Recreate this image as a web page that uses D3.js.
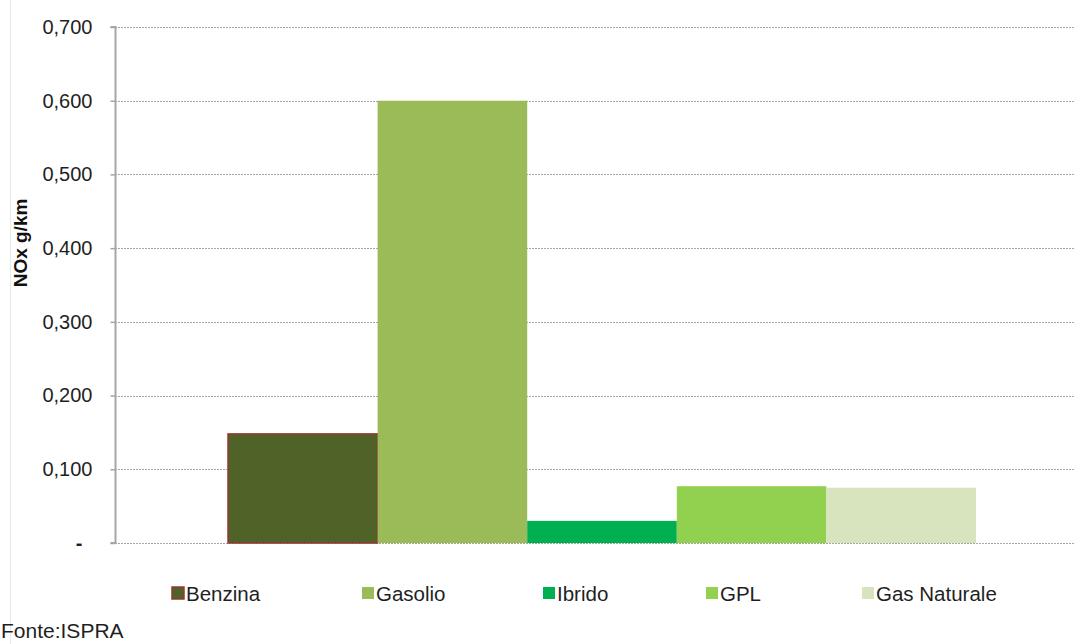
<!DOCTYPE html>
<html><head><meta charset="utf-8">
<script src="https://cdn.jsdelivr.net/npm/d3@7"></script>
<style>body{margin:0;background:#fff;} svg{display:block;font-family:"Liberation Sans",Arial,sans-serif;}</style>
</head><body>
<svg id="c" width="1075" height="644"></svg>
<script>
const series = ["Benzina","Gasolio","Ibrido","GPL","Gas Naturale"];
const values = [0.148, 0.600, 0.030, 0.077, 0.075];
const colors = ["#4F6228","#9BBB59","#00B050","#92D050","#D7E4BD"];
const strokes = ["#953735", null, null, null, null];
const yTicks = [0,0.1,0.2,0.3,0.4,0.5,0.6,0.7];
const yTickLabels = ["-","0,100","0,200","0,300","0,400","0,500","0,600","0,700"];

const svg = d3.select("#c");
const mLeft = 115, mTop = 27, mBottom = 543;
const y = d3.scaleLinear().domain([0,0.7]).range([mBottom, mTop]);
const x = d3.scaleBand().domain(series).range([228, 976]).padding(0);

// left faint border line
svg.append("line").attr("x1",10.5).attr("x2",10.5).attr("y1",0).attr("y2",644).attr("stroke","#e3eeea").attr("stroke-width",1);

// gridlines
svg.append("g").selectAll("line").data(yTicks).join("line")
  .attr("x1", mLeft).attr("x2", 1075)
  .attr("y1", d=>Math.round(y(d))+0.5).attr("y2", d=>Math.round(y(d))+0.5)
  .attr("stroke","#a6a6a6").attr("stroke-width",1).attr("stroke-dasharray","2,1");

// bars
svg.append("g").selectAll("rect").data(series).join("rect")
  .attr("x", d=>x(d)).attr("width", x.bandwidth())
  .attr("y", (d,i)=>y(values[i])).attr("height",(d,i)=>y(0)-y(values[i]))
  .attr("fill",(d,i)=>colors[i])
  .attr("stroke",(d,i)=>strokes[i]||"none").attr("stroke-width",1.5);

// y axis
const axis = d3.axisLeft(y).tickValues(yTicks).tickSize(5).tickPadding(18)
  .tickFormat((d,i)=>yTickLabels[i]);
const ag = svg.append("g").attr("transform",`translate(${mLeft+0.5},0)`).call(axis);
ag.select(".domain").attr("stroke","#a6a6a6").attr("stroke-width",2).attr("d",`M-5,${y(0.7)}H0V${y(0)}H-5`);
ag.selectAll(".tick line").attr("stroke","#a6a6a6").attr("stroke-width",1.5);
ag.selectAll(".tick text").attr("font-size",20).attr("fill","#1f1f1f").attr("font-family","Liberation Sans, Arial, sans-serif");
ag.selectAll(".tick").filter(d=>d===0).select("text").attr("x",-33).attr("font-weight","bold");

// y label
svg.append("text").attr("transform","translate(27,243) rotate(-90)")
  .attr("text-anchor","middle").attr("font-size",19).attr("font-weight","bold").attr("fill","#111")
  .text("NOx g/km");

// legend
const legX = [172, 362, 543, 706, 862];
const lg = svg.append("g").selectAll("g").data(series).join("g")
  .attr("transform",(d,i)=>`translate(${legX[i]},587)`);
lg.append("rect").attr("width",12).attr("height",12)
  .attr("fill",(d,i)=>colors[i]).attr("stroke",(d,i)=>strokes[i]||"none").attr("stroke-width",1.5);
lg.append("text").attr("x",14).attr("y",14).attr("font-size",20.5).attr("fill","#1f1f1f").text(d=>d);

svg.append("text").attr("x",1).attr("y",638).attr("font-size",21).attr("fill","#1f1f1f")
  .attr("font-family","Liberation Sans Narrow, Arial Narrow, sans-serif").text("Fonte:ISPRA");
</script>
</body></html>
